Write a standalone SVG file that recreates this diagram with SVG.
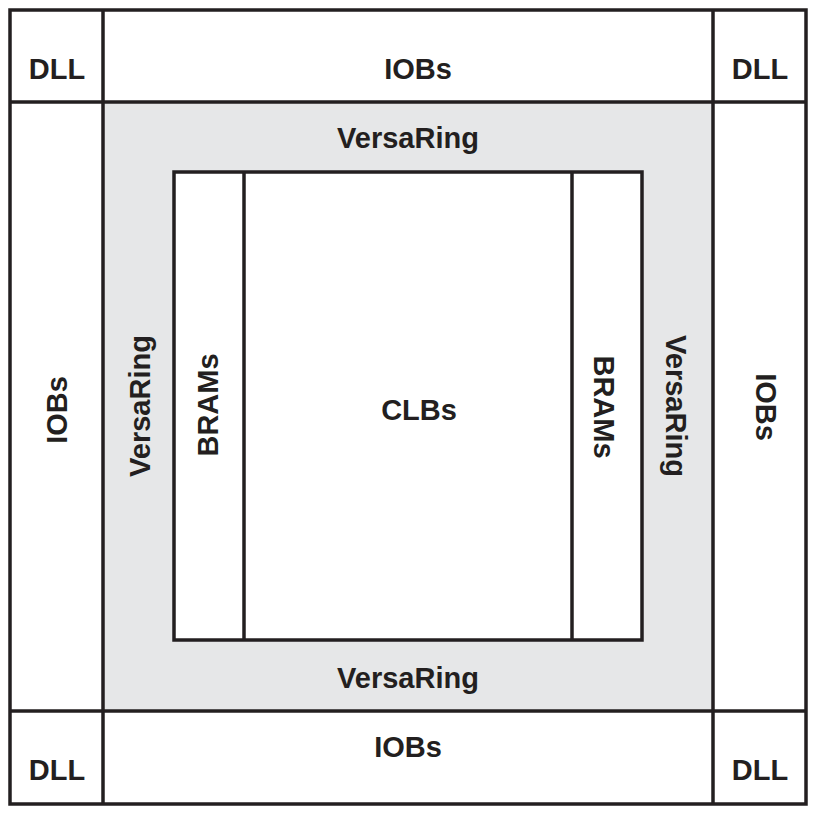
<svg xmlns="http://www.w3.org/2000/svg" width="814" height="815" viewBox="0 0 814 815">
<style>
.b{fill:none;stroke:#231f20;stroke-width:3.5}
.w{fill:#fff;stroke:#231f20;stroke-width:3.5}
.t{font-family:"Liberation Sans",Arial,sans-serif;font-weight:bold;font-size:29px;fill:#231f20;text-anchor:middle;dominant-baseline:central}
</style>
<rect width="814" height="815" fill="#fff"/>
<g id="ring"><rect x="103" y="102" width="610" height="609" fill="#e6e7e8"/></g>
<g id="core"><rect x="174" y="172" width="468" height="468" class="w"/></g>
<g id="lines">
<rect x="10" y="10" width="796" height="794" class="b"/>
<line x1="103" y1="10" x2="103" y2="804" class="b"/>
<line x1="713" y1="10" x2="713" y2="804" class="b"/>
<line x1="10" y1="102" x2="806" y2="102" class="b"/>
<line x1="10" y1="711" x2="806" y2="711" class="b"/>
<line x1="244" y1="172" x2="244" y2="640" class="b"/>
<line x1="572" y1="172" x2="572" y2="640" class="b"/>
</g>
<g id="labels">
<text class="t" x="57" y="69">DLL</text>
<text class="t" x="760" y="69">DLL</text>
<text class="t" x="57" y="770">DLL</text>
<text class="t" x="760" y="770">DLL</text>
<text class="t" x="418" y="69">IOBs</text>
<text class="t" x="408" y="747">IOBs</text>
<text class="t" x="408" y="138">VersaRing</text>
<text class="t" x="408" y="678">VersaRing</text>
<text class="t" x="419" y="410">CLBs</text>
<text class="t" transform="translate(57,410) rotate(-90)">IOBs</text>
<text class="t" transform="translate(140,406) rotate(-90)">VersaRing</text>
<text class="t" transform="translate(208,405) rotate(-90)">BRAMs</text>
<text class="t" transform="translate(604,407) rotate(90)">BRAMs</text>
<text class="t" transform="translate(676,406) rotate(90)">VersaRing</text>
<text class="t" transform="translate(766,407) rotate(90)">IOBs</text>
</g>
</svg>
